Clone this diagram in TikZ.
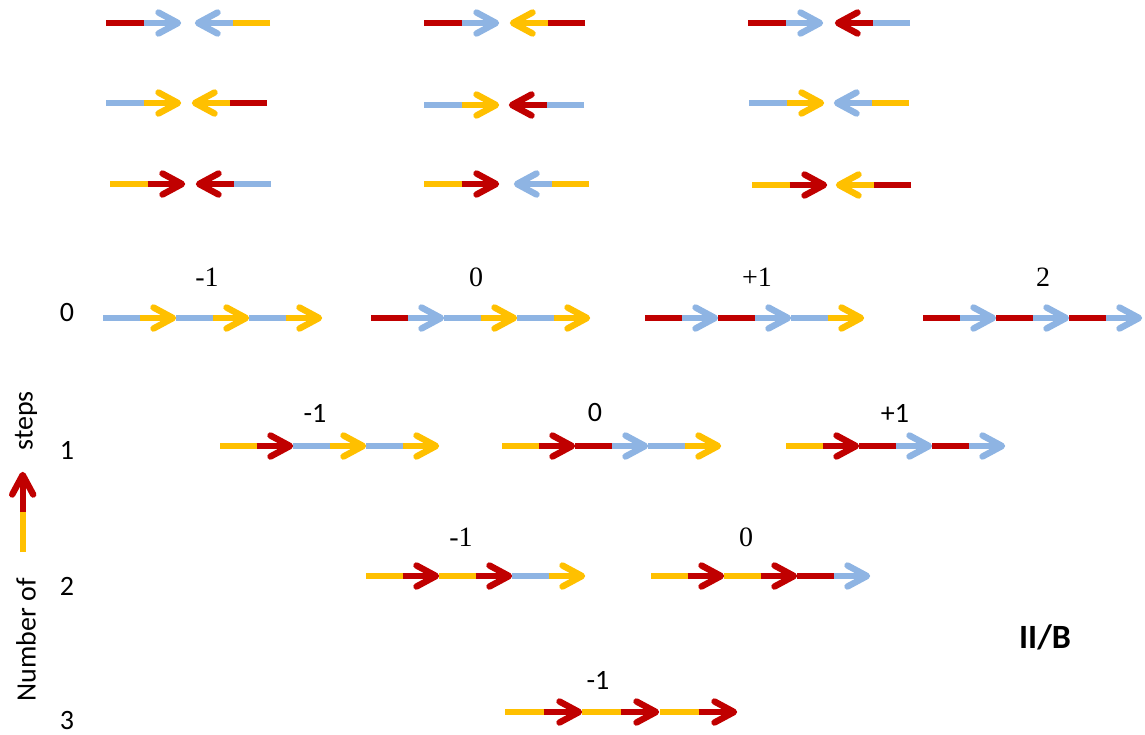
\documentclass[tikz,border=0pt]{standalone}
\usepackage{fontspec}
\setmainfont{Liberation Serif}
\newfontfamily\calfont{Carlito}
\definecolor{cred}{HTML}{C00000}
\definecolor{cblue}{HTML}{8EB4E3}
\definecolor{cyel}{HTML}{FFC000}
\begin{document}
\begin{tikzpicture}[x=1pt,y=-1pt,
  unitlen/.store in=\ulen, unitlen=73,
  pics/seg/.style 2 args={code={
    \draw[line width=5.6, #1] (0,0) -- ({\ulen/2},0);
    \draw[line width=5.6, #2] ({\ulen/2},0) -- ({\ulen-4},0);
    \draw[line width=6.4, #2, line cap=round, line join=round]
      ({\ulen-22.5},-10.5) -- ({\ulen-3},0) -- ({\ulen-22.5},10.5);
  }},
  serlab/.style={font=\fontsize{28}{30}\selectfont, inner sep=0pt},
  sanlab/.style={font=\calfont\fontsize{28}{30}\selectfont, inner sep=0pt}]
\useasboundingbox (0,0) rectangle (1145,734);

% ---- top pairs ----
\begin{scope}[unitlen=75]
% row A
\pic at (106,23) {seg={cred}{cblue}};
\pic[xscale=-1] at (270,23) {seg={cyel}{cblue}};
\pic at (424,23) {seg={cred}{cblue}};
\pic[xscale=-1] at (585,23) {seg={cred}{cyel}};
\pic at (748,23) {seg={cred}{cblue}};
\pic[xscale=-1] at (910,23) {seg={cblue}{cred}};
% row B
\pic at (106,103) {seg={cblue}{cyel}};
\pic[xscale=-1] at (267,103) {seg={cred}{cyel}};
\pic at (424,105) {seg={cblue}{cyel}};
\pic[xscale=-1] at (584,105) {seg={cblue}{cred}};
\pic at (749,103) {seg={cblue}{cyel}};
\pic[xscale=-1] at (909,103) {seg={cyel}{cblue}};
% row C
\pic at (110,184) {seg={cyel}{cred}};
\pic[xscale=-1] at (271,184) {seg={cblue}{cred}};
\pic at (424,184) {seg={cyel}{cred}};
\pic[xscale=-1] at (589,184) {seg={cyel}{cblue}};
\pic at (752,185) {seg={cyel}{cred}};
\pic[xscale=-1] at (911,185) {seg={cred}{cyel}};
\end{scope}

% ---- row 0 ----
\pic at (103,318) {seg={cblue}{cyel}};
\pic at (176,318) {seg={cblue}{cyel}};
\pic at (249,318) {seg={cblue}{cyel}};
\pic at (371,318) {seg={cred}{cblue}};
\pic at (444,318) {seg={cblue}{cyel}};
\pic at (517,318) {seg={cblue}{cyel}};
\pic at (645,318) {seg={cred}{cblue}};
\pic at (718,318) {seg={cred}{cblue}};
\pic at (791,318) {seg={cblue}{cyel}};
\pic at (923,318) {seg={cred}{cblue}};
\pic at (996,318) {seg={cred}{cblue}};
\pic at (1069,318) {seg={cred}{cblue}};
\node[serlab] (l0a) at (207,277) {-1};
\node[serlab] (l0b) at (476,277) {0};
\node[serlab] (l0c) at (757,277) {+1};
\node[serlab] (l0d) at (1043,277) {2};

% ---- row 1 ----
\pic at (220,446) {seg={cyel}{cred}};
\pic at (293,446) {seg={cblue}{cyel}};
\pic at (366,446) {seg={cblue}{cyel}};
\pic at (502,446) {seg={cyel}{cred}};
\pic at (575,446) {seg={cred}{cblue}};
\pic at (648,446) {seg={cblue}{cyel}};
\pic at (786,446) {seg={cyel}{cred}};
\pic at (859,446) {seg={cred}{cblue}};
\pic at (932,446) {seg={cred}{cblue}};
\node[sanlab] (l1a) at (315,413) {-1};
\node[sanlab] (l1b) at (595,413) {0};
\node[sanlab] (l1c) at (895,413) {+1};

% ---- row 2 ----
\pic at (366,576) {seg={cyel}{cred}};
\pic at (439,576) {seg={cyel}{cred}};
\pic at (512,576) {seg={cblue}{cyel}};
\pic at (651,576) {seg={cyel}{cred}};
\pic at (724,576) {seg={cyel}{cred}};
\pic at (797,576) {seg={cred}{cblue}};
\node[serlab] (l2a) at (461,537) {-1};
\node[serlab] (l2b) at (746,537) {0};

% ---- row 3 ----
\begin{scope}[unitlen=77]
\pic at (505,712) {seg={cyel}{cred}};
\pic at (582,712) {seg={cyel}{cred}};
\pic at (660,712) {seg={cyel}{cred}};
\end{scope}
\node[sanlab] (l3a) at (598,680) {-1};

% ---- left axis ----
\node[sanlab] (n0) at (67,313) {0};
\node[sanlab] (n1) at (67,450) {1};
\node[sanlab] (n2) at (67,586) {2};
\node[sanlab] (n3) at (67,720) {3};
\node[sanlab, rotate=90] (steps) at (26,421) {steps};
\node[sanlab, rotate=90] (numof) at (26,640) {Number of};
\pic[unitlen=80, rotate=90] at (22.7,552) {seg={cyel}{cred}};

\node[font=\calfont\bfseries\fontsize{34}{36}\selectfont, inner sep=0pt] (tag) at (1045,637) {II/B};
\end{tikzpicture}
\end{document}
